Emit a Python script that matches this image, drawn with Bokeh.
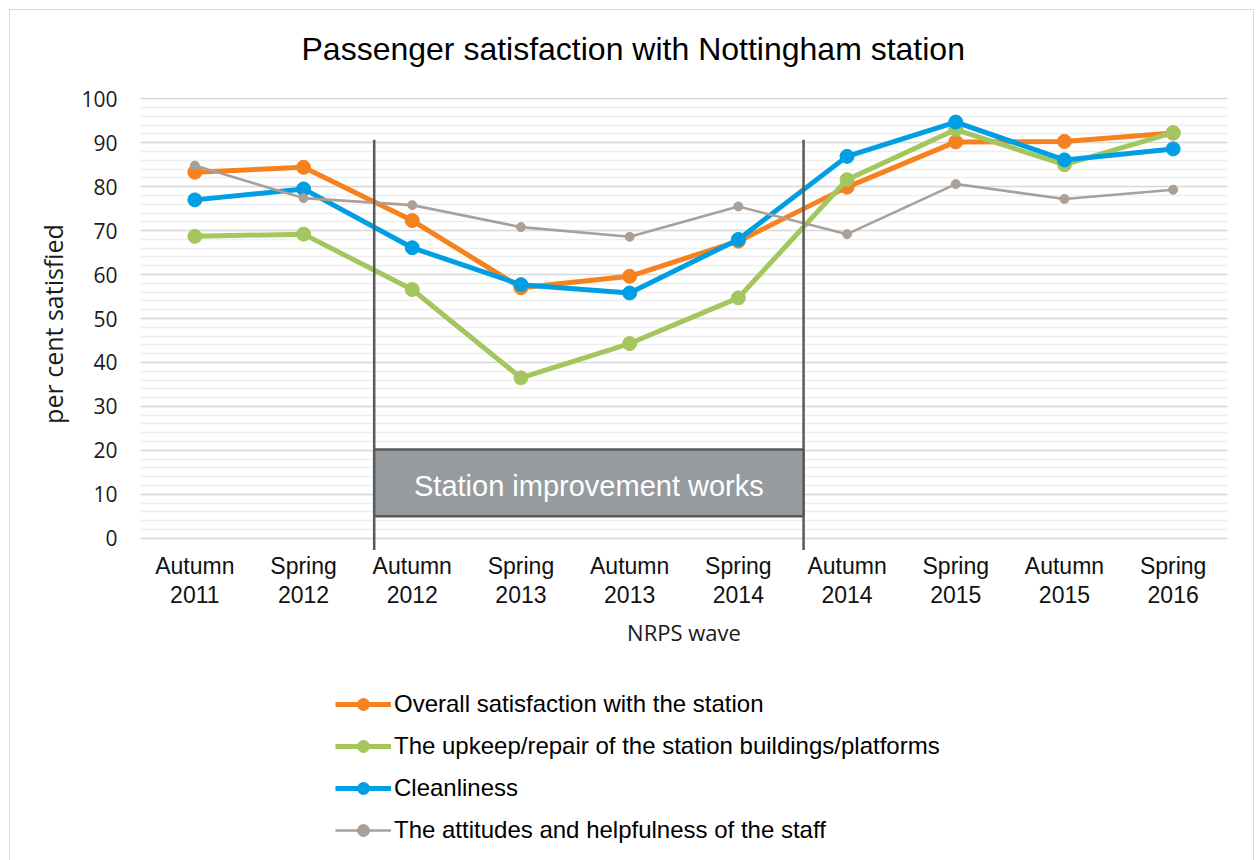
from bokeh.plotting import figure
from bokeh.layouts import column
from bokeh.models import (Range1d, FixedTicker, Legend, LegendItem, ColumnDataSource, Title)
from bokeh.core.properties import value
from bokeh.embed import file_html
from bokeh.resources import INLINE

# ---------------- data ----------------
waves = ["Autumn 2011", "Spring 2012", "Autumn 2012", "Spring 2013", "Autumn 2013",
         "Spring 2014", "Autumn 2014", "Spring 2015", "Autumn 2015", "Spring 2016"]
overall = [83.3, 84.4, 72.3, 57.0, 59.6, 67.6, 79.9, 90.2, 90.3, 92.2]
upkeep = [68.7, 69.2, 56.6, 36.5, 44.3, 54.7, 81.6, 93.0, 85.0, 92.3]
cleanliness = [77.0, 79.5, 66.1, 57.7, 55.8, 68.0, 86.9, 94.7, 86.1, 88.6]
staff = [84.8, 77.4, 75.8, 70.8, 68.6, 75.5, 69.2, 80.6, 77.2, 79.3]

series_names = ["Overall satisfaction with the station",
                "The upkeep/repair of the station buildings/platforms",
                "Cleanliness",
                "The attitudes and helpfulness of the staff"]
y_ticks = list(range(0, 101, 10))
y_minor = list(range(0, 101, 2))

# improvement works annotation (in wave-index units / per cent)
works_bounds = [1.65, 5.6]
works_line_extent = [-2.7, 90.7]
works_box_extent = [5.0, 20.2]
works_label = "Station improvement works"
works_label_level = 11.85

title_text = "Passenger satisfaction with Nottingham station"

# ---------------- chart figure ----------------
FONT = "Liberation Sans"
idx = list(range(len(waves)))
CANVAS_W = 1243

p = figure(frame_width=1087, frame_height=453,
           min_border_left=130, min_border_right=CANVAS_W - 130 - 1087,
           min_border_top=87, min_border_bottom=100,
           x_range=Range1d(-0.5, len(waves) - 0.5),
           y_range=Range1d(-2.8, 100.3),
           output_backend="svg", toolbar_location=None,
           background_fill_color="white", border_fill_color="white")
p.outline_line_color = None

# title (spacer keeps it at the right distance above the plot area)
p.title.text = ""
p.add_layout(Title(text=" ", text_font_size="2px", standoff=27), "above")
p.add_layout(Title(text=title_text, align="left", offset=161, standoff=0,
                   text_font=FONT, text_font_size="32px", text_font_style="normal",
                   text_color="#000000"), "above")

# grid
p.xgrid.visible = False
p.yaxis.ticker = FixedTicker(ticks=y_ticks, minor_ticks=y_minor)
p.ygrid.grid_line_color = "#d9d9d9"
p.ygrid.grid_line_width = 1.6
p.ygrid.minor_grid_line_color = "#eeeeee"
p.ygrid.minor_grid_line_width = 1.6

# y axis
p.yaxis.axis_line_color = None
p.yaxis.major_tick_line_color = None
p.yaxis.minor_tick_line_color = None
p.yaxis.major_label_standoff = 17
p.yaxis.major_label_text_font = "Open Sans"
p.yaxis.major_label_text_font_size = "21px"
p.yaxis.major_label_text_color = "#1a1a1a"
p.yaxis.axis_label = "per cent satisfied"
p.yaxis.axis_label_text_font = "Open Sans"
p.yaxis.axis_label_text_font_size = "25px"
p.yaxis.axis_label_text_font_style = "normal"
p.yaxis.axis_label_text_color = "#1a1a1a"
p.yaxis.axis_label_standoff = 8

# x axis
p.xaxis.ticker = FixedTicker(ticks=idx)
p.xaxis.major_label_overrides = {i: w.replace(" ", "\n") for i, w in zip(idx, waves)}
p.xaxis.axis_line_color = None
p.xaxis.major_tick_line_color = None
p.xaxis.minor_tick_line_color = None
p.xaxis.major_label_standoff = -4
p.xaxis.major_label_text_font = FONT
p.xaxis.major_label_text_font_size = "23px"
p.xaxis.major_label_text_line_height = 1.12
p.xaxis.major_label_text_color = "#111111"
p.xaxis.axis_label = "NRPS wave"
p.xaxis.axis_label_text_font = "Open Sans"
p.xaxis.axis_label_text_font_size = "22px"
p.xaxis.axis_label_text_font_style = "normal"
p.xaxis.axis_label_text_color = "#1a1a1a"
p.xaxis.axis_label_standoff = 6

# series
colors = ["#F5821F", "#A3C65E", "#009FE3", "#AAA097"]
widths = [5, 5, 5, 2.6]
sizes = [14, 14, 14, 9]
values = [overall, upkeep, cleanliness, staff]

for vals, c, w, s in zip(values, colors, widths, sizes):
    src = ColumnDataSource(dict(x=idx, y=vals))
    p.line("x", "y", source=src, line_color=c, line_width=w, line_join="round")
    p.scatter("x", "y", source=src, size=s, fill_color=c, line_color=c)

# improvement works markers
p.segment(x0=works_bounds, y0=[works_line_extent[0]] * 2,
          x1=works_bounds, y1=[works_line_extent[1]] * 2,
          line_color="#595959", line_width=2.5)
p.quad(left=[works_bounds[0]], right=[works_bounds[1]],
       bottom=[works_box_extent[0]], top=[works_box_extent[1]],
       fill_color="#969BA0", line_color="#595959", line_width=2.5)
p.text(x=[sum(works_bounds) / 2], y=[works_label_level], text=[works_label],
       text_font=value(FONT), text_font_size="29px", text_color="white",
       text_align="center", text_baseline="alphabetic")

# ---------------- legend figure (below the chart) ----------------
# The same series are drawn here outside the visible range; only their legend shows.
LEG_H = 210
pl = figure(frame_width=CANVAS_W, frame_height=LEG_H, min_border=0,
            x_range=Range1d(-0.5, len(waves) - 0.5), y_range=Range1d(500, 600),
            x_axis_location=None, y_axis_location=None,
            output_backend="svg", toolbar_location=None,
            background_fill_color="white", border_fill_color="white")
pl.outline_line_color = None
pl.grid.visible = False

items = []
for name, vals, c, w, s in zip(series_names, values, colors, widths, sizes):
    src = ColumnDataSource(dict(x=idx, y=vals))
    ln = pl.line("x", "y", source=src, line_color=c, line_width=w)
    sc = pl.scatter("x", "y", source=src, size=s, fill_color=c, line_color=c)
    items.append(LegendItem(label=name, renderers=[ln, sc]))

legend = Legend(items=items, location=(325, 15), orientation="vertical",
                label_text_font=FONT, label_text_font_size="24px",
                label_text_color="#000000", label_standoff=3,
                glyph_width=56, glyph_height=30, label_height=30, spacing=12,
                padding=0, margin=0, border_line_color=None,
                background_fill_alpha=0)
pl.add_layout(legend, "center")

layout = column(p, pl, spacing=0,
                styles={"border": "1px solid #d9d9d9", "margin": "9px 0 0 9px"})

open("out.html", "w").write(file_html(layout, INLINE))
